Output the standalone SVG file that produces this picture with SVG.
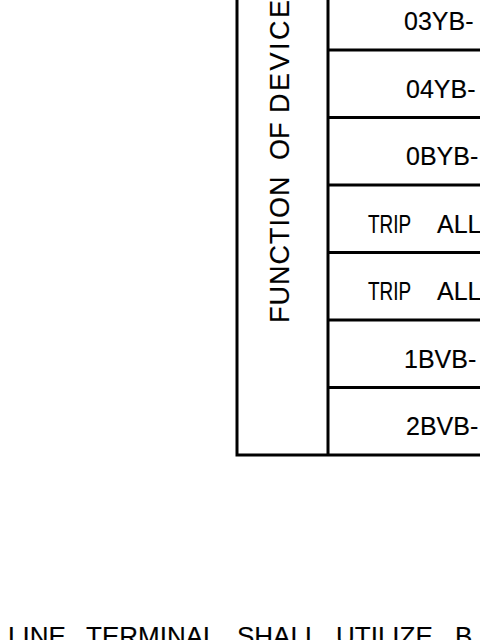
<svg xmlns="http://www.w3.org/2000/svg" width="480" height="640" viewBox="0 0 480 640">
<style>
.ln{stroke:#000;stroke-width:3;fill:none;stroke-linecap:square}
.t,.h,.b{font-family:"Liberation Sans","DejaVu Sans",sans-serif;fill:#000;stroke:#000;stroke-width:0.15}
.t{font-size:25px}
.h{font-size:27px}
.b{font-size:26px}
</style>
<rect width="480" height="640" fill="#fff"/>
<g id="table-lines">
<path class="ln" d="M237,0V455H480M328,0V455M328,50H480M328,117.5H480M328,185H480M328,252.5H480M328,320H480M328,387.5H480"/>
</g>
<g id="header">
<text class="h" transform="translate(289,322) rotate(-90)"><tspan x="-1" letter-spacing="1">FUNCTION</tspan><tspan x="162">OF</tspan><tspan x="209" letter-spacing="2.5">DEVICE</tspan></text>
</g>
<g id="row1"><text class="t" x="404" y="30">03YB-</text></g>
<g id="row2"><text class="t" x="406" y="97.5">04YB-</text></g>
<g id="row3"><text class="t" x="406" y="165">0BYB-</text></g>
<g id="row4"><text class="t" x="368" y="232.5"><tspan textLength="43" lengthAdjust="spacingAndGlyphs">TRIP</tspan><tspan x="437">ALL</tspan></text></g>
<g id="row5"><text class="t" x="368" y="300"><tspan textLength="43" lengthAdjust="spacingAndGlyphs">TRIP</tspan><tspan x="437">ALL</tspan></text></g>
<g id="row6"><text class="t" x="404" y="367.5">1BVB-</text></g>
<g id="row7"><text class="t" x="406" y="435">2BVB-</text></g>
<g id="note">
<text class="b" y="645"><tspan x="8">LINE</tspan><tspan x="86">TERMINAL</tspan><tspan x="237">SHALL</tspan><tspan x="336">UTILIZE</tspan><tspan x="455">B</tspan></text>
</g>
</svg>
